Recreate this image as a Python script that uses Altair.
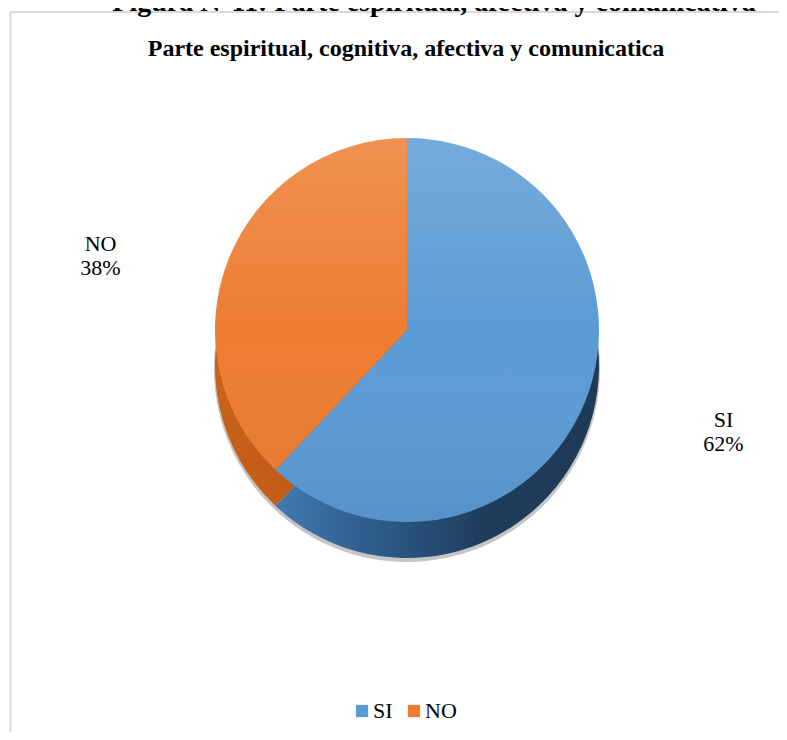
import altair as alt
import pandas as pd

categorias = ["SI", "NO"]
valores = [62, 38]
orden = [1, 2]
etiquetas = ["SI\n62%", "NO\n38%"]
colores = ["#5b9bd5", "#ed7d31"]

titulo_figura = "Figura N°11: Parte espiritual, afectiva y comunicativa"
titulo = "Parte espiritual, cognitiva, afectiva y comunicatica"

df = pd.DataFrame({"categoria": categorias, "valor": valores,
                   "orden": orden, "etiqueta": etiquetas})

W, H = 771, 724
CX, CY, R, DEPTH = 399, 322, 192, 36
FONT = "Liberation Serif"

base = alt.Chart(df)
theta = alt.Theta("valor:Q", stack=True)
order = alt.Order("orden:O")

side_si = {"gradient": "linear", "x1": 0, "y1": 0, "x2": 1, "y2": 0,
           "stops": [{"offset": 0, "color": "#4079b0"},
                     {"offset": 0.35, "color": "#2c5885"},
                     {"offset": 0.65, "color": "#1f3c5c"},
                     {"offset": 1, "color": "#1f3a56"}]}
side_no = {"gradient": "linear", "x1": 0, "y1": 0, "x2": 1, "y2": 0,
           "stops": [{"offset": 0, "color": "#c9621a"},
                     {"offset": 1, "color": "#b5520f"}]}
brillo = {"gradient": "linear", "x1": 0, "y1": 0, "x2": 0, "y2": 1,
          "stops": [{"offset": 0, "color": "rgba(255,255,255,0.16)"},
                    {"offset": 0.5, "color": "rgba(255,255,255,0.0)"},
                    {"offset": 1, "color": "rgba(0,0,0,0.06)"}]}

sombra = base.mark_arc(outerRadius=R + 1, fill="#7f7f7f", opacity=0.45).encode(
    theta=theta, order=order, x=alt.value(CX), y=alt.value(CY + DEPTH + 3))

lado = base.mark_arc(outerRadius=R).encode(
    theta=theta, order=order, x=alt.value(CX), y=alt.value(CY + DEPTH),
    fill=alt.condition(alt.datum.categoria == "SI", alt.value(side_si), alt.value(side_no)))

cara = base.mark_arc(outerRadius=R).encode(
    theta=theta, order=order, x=alt.value(CX), y=alt.value(CY),
    color=alt.Color("categoria:N",
                    scale=alt.Scale(domain=categorias, range=colores),
                    sort=categorias,
                    legend=alt.Legend(orient="none", legendX=343, legendY=692,
                                      direction="horizontal", title=None,
                                      symbolType="square", symbolSize=150,
                                      symbolStrokeWidth=0, labelFont=FONT,
                                      labelFontSize=22, labelColor="#000000",
                                      labelOffset=0, columnPadding=10, padding=0)))

luz = base.transform_aggregate(total="sum(valor)").mark_arc(
    outerRadius=R, fill=brillo).encode(
    theta=alt.Theta("total:Q"), x=alt.value(CX), y=alt.value(CY))

texto = base.mark_text(radius=335, font=FONT, fontSize=22, lineBreak="\n",
                       align="center", baseline="middle", color="#000000", dx=5,
                       dy=alt.ExprRef("datum.categoria == 'SI' ? -33 : 37")).encode(
    theta=theta, order=order, text="etiqueta:N", x=alt.value(CX), y=alt.value(CY))

marco = alt.Chart(pd.DataFrame({"a": [0]}))
borde_izq = marco.mark_rule(color="#d9d9d9", strokeWidth=2).encode(
    x=alt.value(2.5), y=alt.value(4), y2=alt.value(H))
borde_sup = marco.mark_rule(color="#d9d9d9", strokeWidth=2).encode(
    x=alt.value(2.5), x2=alt.value(W), y=alt.value(4))

t_fig = marco.mark_text(text=titulo_figura, font=FONT, fontSize=28, fontWeight="bold",
                        align="center", baseline="alphabetic", color="#000000").encode(
    x=alt.value(426), y=alt.value(3))
t_main = marco.mark_text(text=titulo, font=FONT, fontSize=24, fontWeight="bold",
                         align="center", baseline="alphabetic", color="#000000").encode(
    x=alt.value(398), y=alt.value(48))

chart = alt.layer(borde_izq, borde_sup, t_fig, t_main, sombra, lado, cara, luz, texto).properties(
    width=W, height=H, autosize=alt.AutoSizeParams(type="none"), padding=0,
    background="#ffffff"
).configure_view(stroke=None)

chart.save("out.html", embed_options={"renderer": "svg", "actions": False})
